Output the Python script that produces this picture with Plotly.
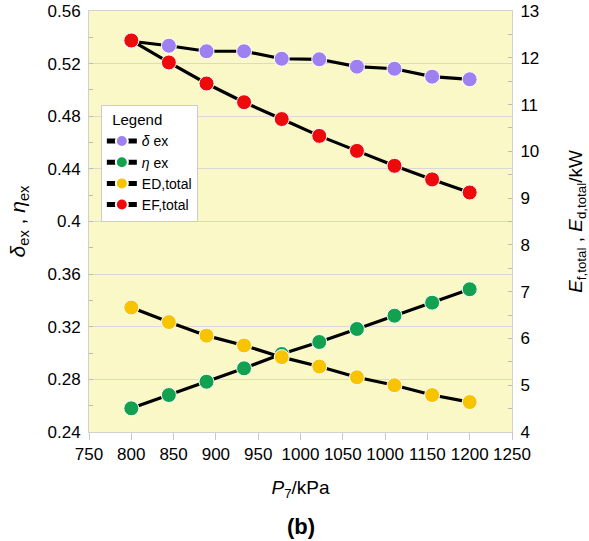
import plotly.graph_objects as go

pressure = [800, 844.4, 888.9, 933.3, 977.8, 1022.2, 1066.7, 1111.1, 1155.6, 1200]
delta_ex = [0.537, 0.5336, 0.5294, 0.5294, 0.5237, 0.5233, 0.5177, 0.5161, 0.5101, 0.5081]
eta_ex = [0.258, 0.2681, 0.2782, 0.2884, 0.2993, 0.3084, 0.3183, 0.3284, 0.3383, 0.3485]
ed_total = [6.66, 6.35, 6.06, 5.85, 5.60, 5.40, 5.17, 5.00, 4.79, 4.64]
ef_total = [12.37, 11.90, 11.45, 11.05, 10.69, 10.33, 10.01, 9.69, 9.40, 9.12]

x_tickvals = [750, 800, 850, 900, 950, 1000, 1050, 1100, 1150, 1200, 1250]
x_ticktext = ["750", "800", "850", "900", "950", "1000", "1050", "1000", "1150", "1200", "1250"]
left_tickvals = [0.24, 0.28, 0.32, 0.36, 0.40, 0.44, 0.48, 0.52, 0.56]
left_ticktext = ["0.24", "0.28", "0.32", "0.36", "0.4", "0.44", "0.48", "0.52", "0.56"]
right_tickvals = [4, 5, 6, 7, 8, 9, 10, 11, 12, 13]

font_family = "Liberation Sans, Arial, sans-serif"

def trace(y, name, color, yaxis):
    return go.Scatter(
        x=pressure, y=y, name=name, yaxis=yaxis, mode="lines+markers",
        line=dict(color="black", width=3.2),
        marker=dict(color=color, size=15, line=dict(color="white", width=1)),
    )

fig = go.Figure()
fig.add_trace(trace(delta_ex, "<i>δ</i> ex", "#9F80F0", "y"))
fig.add_trace(trace(eta_ex, "<i>η</i> ex", "#12A24F", "y"))
fig.add_trace(trace(ed_total, "ED,total", "#F8C400", "y2"))
fig.add_trace(trace(ef_total, "EF,total", "#EE0A0A", "y2"))

fig.update_layout(
    width=589, height=541,
    margin=dict(l=89, r=77, t=11, b=109, autoexpand=False),
    paper_bgcolor="white",
    plot_bgcolor="#FBF8C8",
    font=dict(family=font_family, size=15, color="black"),
    showlegend=True,
    legend=dict(
        title=dict(text="  Legend", font=dict(size=15)),
        x=0.028, y=0.777, xanchor="left", yanchor="top",
        bgcolor="white", bordercolor="#cccccc", borderwidth=1,
        font=dict(size=14), tracegroupgap=0, itemwidth=30, itemsizing="constant",
    ),
    xaxis=dict(
        range=[750, 1250], tickmode="array", tickvals=x_tickvals, ticktext=x_ticktext,
        showgrid=False, zeroline=False, showline=True, linecolor="#d0d0d0", mirror=True,
        ticks="outside", ticklen=7, tickcolor="#c8c8c8",
        tickfont=dict(size=17), automargin=False,
        title=dict(text="<i>P</i><sub>7</sub>/kPa", font=dict(size=19), standoff=17),
    ),
    yaxis=dict(
        range=[0.24, 0.56], tickmode="array", tickvals=left_tickvals, ticktext=left_ticktext,
        showgrid=True, gridcolor="#d8d8d8", gridwidth=1, zeroline=False,
        showline=True, linecolor="#d0d0d0",
        ticks="inside", ticklen=4, tickcolor="#bbbbbb", ticklabelstandoff=4,
        minor=dict(dtick=0.02, ticks="inside", ticklen=4, tickcolor="#bbbbbb", showgrid=False),
        tickfont=dict(size=17), automargin=False,
        title=dict(text="<i>δ</i><sub>ex</sub> , <i>η</i><sub>ex</sub>", font=dict(size=21), standoff=16),
    ),
    yaxis2=dict(
        range=[4, 13], tickmode="array", tickvals=right_tickvals, overlaying="y", side="right",
        showgrid=False, zeroline=False, showline=True, linecolor="#d0d0d0",
        ticks="inside", ticklen=4, tickcolor="#bbbbbb", ticklabelstandoff=4,
        minor=dict(dtick=0.5, ticks="inside", ticklen=4, tickcolor="#bbbbbb", showgrid=False),
        tickfont=dict(size=17), automargin=False,
        title=dict(text="<i>E</i><sub>f,total</sub> , <i>E</i><sub>d,total</sub>/kW", font=dict(size=19), standoff=31),
    ),
    annotations=[dict(
        text="<b>(b)</b>", x=0.5, y=-0.19, xref="paper", yref="paper",
        xanchor="center", yanchor="top", showarrow=False, font=dict(size=22),
    )],
)

fig.write_html("out.html", config={"displayModeBar": False},
               post_script="document.body.style.margin='0';")
